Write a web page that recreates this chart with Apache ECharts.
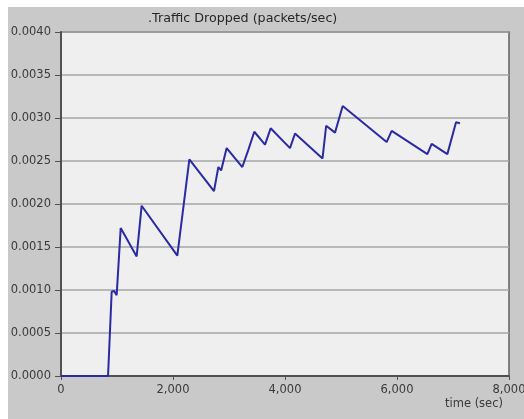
<!DOCTYPE html>
<html>
<head>
<meta charset="utf-8">
<script src="https://cdn.jsdelivr.net/npm/echarts@6/dist/echarts.min.js"></script>
<style>
html,body{margin:0;padding:0;background:#fff;}
#c{width:524px;height:419px;}
</style>
</head>
<body>
<div id="c"></div>
<script>
var titleText = '.Traffic Dropped (packets/sec)';
var xAxisName = 'time (sec)';
var timeValues = [0, 840, 905, 946, 994, 1066, 1351, 1440, 2077, 2292, 2732, 2810, 2860, 2958, 3238, 3345, 3375, 3452, 3643, 3744, 4089, 4179, 4670, 4735, 4893, 5030, 5815, 5905, 6542, 6619, 6899, 7054, 7125];
var droppedValues = [0, 0, 0.00098, 0.00099, 0.00094, 0.00172, 0.00139, 0.00198, 0.00140, 0.00252, 0.00215, 0.00243, 0.00239, 0.00265, 0.00243, 0.00263, 0.00262, 0.00284, 0.00269, 0.00288, 0.00265, 0.00282, 0.00253, 0.00291, 0.00283, 0.00314, 0.00272, 0.00285, 0.00258, 0.00270, 0.00258, 0.00295, 0.00294];

var pts = timeValues.map(function(t, i){ return [t, droppedValues[i]]; });
var chart = echarts.init(document.getElementById('c'), null, {renderer:'canvas'});
var lblFont = {color:'#3a3a3a', fontSize:11.5, fontFamily:'DejaVu Sans, sans-serif'};
chart.setOption({
  animation:false,
  backgroundColor:'#ffffff',
  graphic:[
    {type:'rect', z:-10, shape:{x:8, y:7, width:516, height:412}, style:{fill:'#c9c9c9'}},
    {type:'text', z:10, left:148, top:12, style:{text:titleText, fill:'#262626', font:'12.7px "DejaVu Sans", sans-serif'}},
    {type:'text', z:10, left:445, top:398, style:{text:xAxisName, fill:'#3a3a3a', font:'11.5px "DejaVu Sans", sans-serif'}}
  ],
  grid:{left:61, right:15, top:32, bottom:43, containLabel:false, outerBoundsMode:'none', show:true, backgroundColor:'#efefef', borderColor:'#606060', borderWidth:1.5},
  xAxis:{
    type:'value', min:0, max:8000, interval:2000,
    axisLine:{show:true, lineStyle:{color:'#505050', width:2}},
    axisTick:{show:true, length:4, lineStyle:{color:'#505050'}},
    splitLine:{show:false},
    axisLabel:Object.assign({margin:8, formatter:function(v){return v.toLocaleString('en-US');}}, lblFont)
  },
  yAxis:{
    type:'value', min:0, max:0.004, interval:0.0005,
    axisLine:{show:true, lineStyle:{color:'#505050', width:2}},
    axisTick:{show:true, length:6, lineStyle:{color:'#505050'}},
    splitLine:{show:true, lineStyle:{color:'#a6a6a6', width:1.5}},
    axisLabel:Object.assign({margin:10, formatter:function(v){return v.toFixed(4);}}, lblFont)
  },
  series:[{
    type:'line', data:pts, showSymbol:false, symbol:'none',
    lineStyle:{color:'#2a2aa4', width:2},
    z:5
  }]
});
</script>
</body>
</html>
